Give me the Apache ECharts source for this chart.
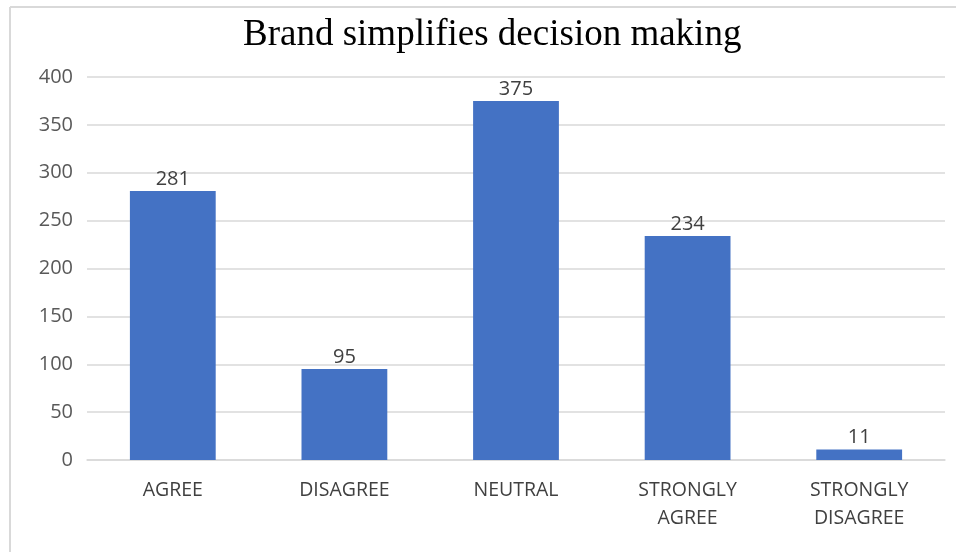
<!DOCTYPE html>
<html>
<head>
<meta charset="utf-8">
<script src="https://cdn.jsdelivr.net/npm/echarts@6/dist/echarts.min.js"></script>
<style>
html,body{margin:0;padding:0;background:#fff;}
#c{width:956px;height:552px;}
</style>
</head>
<body>
<div id="c"></div>
<script>
var titleText = "Brand simplifies decision making";
var categories = ["AGREE", "DISAGREE", "NEUTRAL", "STRONGLY\nAGREE", "STRONGLY\nDISAGREE"];
var values = [281, 95, 375, 234, 11];
var yTicks = [0, 50, 100, 150, 200, 250, 300, 350, 400];

var chart = echarts.init(document.getElementById('c'));
chart.setOption({
  backgroundColor: '#fff',
  animation: false,
  title: {
    text: titleText,
    left: 238,
    top: 12,
    textStyle: {fontFamily: 'Liberation Serif', fontSize: 37, fontWeight: 'normal', color: '#000'}
  },
  graphic: [
    {type: 'line', shape: {x1: 10, y1: 7, x2: 956, y2: 7}, style: {stroke: '#d9d9d9', lineWidth: 2}},
    {type: 'line', shape: {x1: 10, y1: 7, x2: 10, y2: 552}, style: {stroke: '#d9d9d9', lineWidth: 2}}
  ],
  grid: {left: 87, right: 11, top: 77, bottom: 92},
  xAxis: {
    type: 'category',
    data: categories,
    axisLine: {lineStyle: {color: '#d9d9d9', width: 1.5}},
    axisTick: {show: false},
    axisLabel: {fontFamily: 'Open Sans', fontSize: 19.5, color: '#404040', margin: 16, lineHeight: 28}
  },
  yAxis: {
    type: 'value',
    min: yTicks[0],
    max: yTicks[yTicks.length - 1],
    interval: 50,
    axisLine: {show: false},
    axisTick: {show: false},
    splitLine: {lineStyle: {color: '#d9d9d9', width: 1.5}},
    axisLabel: {fontFamily: 'Open Sans', fontSize: 20, color: '#595959', margin: 14}
  },
  series: [{
    type: 'bar',
    data: values,
    barWidth: '50%',
    itemStyle: {color: '#4472C4'},
    label: {show: true, position: 'top', distance: 2, fontFamily: 'Open Sans', fontSize: 20, color: '#404040'}
  }]
});
</script>
</body>
</html>
